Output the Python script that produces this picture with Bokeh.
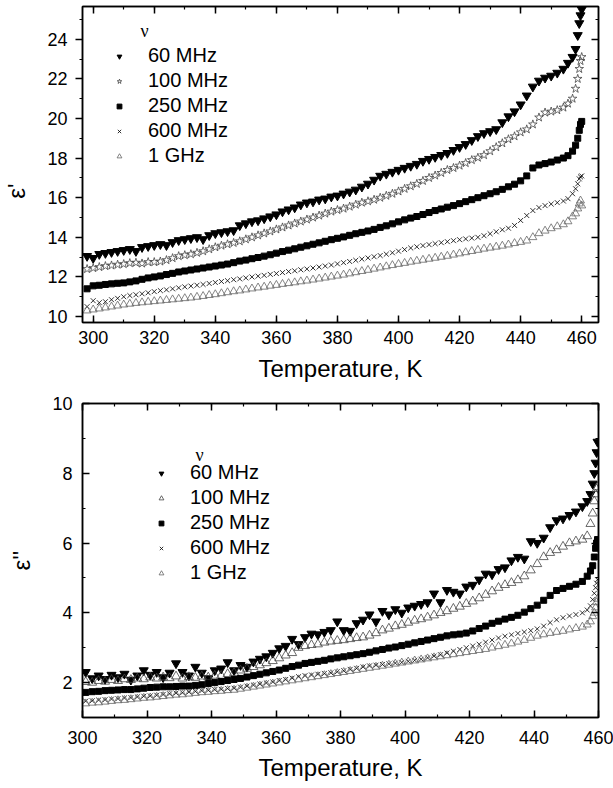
from bokeh.plotting import figure
from bokeh.models import (ColumnDataSource, LinearAxis, Range1d, SingleIntervalTicker,
                          Legend, LegendItem, Label, CustomJSTickFormatter)
from bokeh.layouts import column
from bokeh.embed import file_html
from bokeh.resources import INLINE

FONT = "Liberation Sans"

# ---------------- data: upper panel (eps') ----------------
T_top = [298, 300, 302, 304, 306, 308, 310, 312, 314, 316,
         318, 320, 322, 324, 326, 328, 330, 332, 334, 336,
         338, 340, 342, 344, 346, 348, 350, 352, 354, 356,
         358, 360, 362, 364, 366, 368, 370, 372, 374, 376,
         378, 380, 382, 384, 386, 388, 390, 392, 394, 396,
         398, 400, 402, 404, 406, 408, 410, 412, 414, 416,
         418, 420, 422, 424, 426, 428, 430, 432, 434, 436,
         438, 440, 442, 444, 446, 448, 450, 452, 454,
         455.5, 457, 458, 458.7, 459.2, 459.6, 460]

eps1_60MHz = [13.05, 12.95, 13.15, 13.2, 13.25, 13.3, 13.35, 13.4, 13.3, 13.5,
              13.55, 13.6, 13.65, 13.6, 13.75, 13.85, 13.9, 13.95, 14.0, 13.9,
              14.1, 14.2, 14.25, 14.3, 14.35, 14.6, 14.7, 14.8, 14.85, 14.95,
              15.05, 15.15, 15.3, 15.4, 15.5, 15.65, 15.75, 15.8, 15.9, 15.95,
              16.05, 16.1, 16.2, 16.3, 16.4, 16.55, 16.7, 16.9, 17.1, 17.2,
              17.3, 17.4, 17.5, 17.6, 17.7, 17.85, 17.95, 18.05, 18.15, 18.25,
              18.4, 18.55, 18.7, 18.9, 19.1, 19.25, 19.35, 19.45, 19.8, 20.1,
              20.35, 20.7, 21.15, 21.6, 21.9, 22.05, 22.15, 22.3, 22.5,
              22.8, 23.1, 23.5, 24.2, 24.8, 25.2, 25.5]

eps1_100MHz = [12.4, 12.45, 12.5, 12.55, 12.58, 12.62, 12.65, 12.7, 12.72, 12.68,
               12.75, 12.75, 12.78, 12.85, 12.95, 13.05, 13.1, 13.15, 13.22, 13.3,
               13.4, 13.5, 13.58, 13.65, 13.72, 13.8, 13.9, 14.0, 14.1, 14.2,
               14.3, 14.4, 14.5, 14.6, 14.7, 14.8, 14.9, 15.0, 15.1, 15.2,
               15.3, 15.38, 15.45, 15.55, 15.65, 15.75, 15.82, 15.9, 16.0, 16.1,
               16.2, 16.32, 16.45, 16.58, 16.7, 16.85, 17.0, 17.12, 17.25, 17.4,
               17.5, 17.62, 17.75, 17.9, 18.02, 18.15, 18.35, 18.55, 18.75, 18.95,
               19.1, 19.3, 19.45, 19.7, 20.05, 20.3, 20.35, 20.42, 20.55,
               20.75, 21.0, 21.5, 22.0, 22.5, 22.9, 23.1]

eps1_250MHz = [11.4, 11.55, 11.58, 11.62, 11.65, 11.68, 11.7, 11.75, 11.8, 11.88,
               11.95, 12.0, 12.05, 12.12, 12.18, 12.25, 12.3, 12.35, 12.4, 12.45,
               12.5, 12.55, 12.6, 12.65, 12.72, 12.8, 12.85, 12.92, 12.98, 13.05,
               13.12, 13.2, 13.28, 13.35, 13.42, 13.5, 13.57, 13.65, 13.72, 13.8,
               13.88, 13.95, 14.02, 14.1, 14.18, 14.25, 14.32, 14.4, 14.5, 14.58,
               14.68, 14.78, 14.88, 14.97, 15.05, 15.15, 15.25, 15.35, 15.43, 15.52,
               15.6, 15.7, 15.8, 15.9, 16.0, 16.1, 16.2, 16.3, 16.42, 16.55,
               16.68, 16.85, 17.1, 17.5, 17.65, 17.72, 17.8, 17.9, 18.0,
               18.12, 18.35, 18.65, 19.0, 19.4, 19.7, 19.85]

eps1_600MHz = [10.5, 10.8, 10.7, 10.75, 10.85, 10.92, 11.0, 11.06, 11.1, 11.15,
               11.2, 11.26, 11.31, 11.35, 11.4, 11.45, 11.5, 11.54, 11.58, 11.62,
               11.67, 11.72, 11.77, 11.81, 11.86, 11.9, 11.95, 12.0, 12.04, 12.08,
               12.13, 12.17, 12.22, 12.27, 12.31, 12.36, 12.4, 12.45, 12.5, 12.55,
               12.6, 12.66, 12.72, 12.78, 12.84, 12.9, 12.96, 13.02, 13.08, 13.15,
               13.22, 13.3, 13.38, 13.46, 13.52, 13.58, 13.63, 13.68, 13.73, 13.78,
               13.83, 13.88, 13.92, 13.96, 14.0, 14.08, 14.18, 14.28, 14.38, 14.46,
               14.6, 14.85, 15.1, 15.35, 15.5, 15.6, 15.68, 15.75, 15.83,
               15.95, 16.2, 16.45, 16.7, 16.95, 17.05, 17.1]

eps1_1GHz = [10.3, 10.35, 10.4, 10.45, 10.5, 10.55, 10.6, 10.64, 10.68, 10.71,
             10.74, 10.77, 10.8, 10.83, 10.86, 10.89, 10.92, 10.95, 10.99, 11.03,
             11.08, 11.12, 11.17, 11.22, 11.27, 11.31, 11.36, 11.41, 11.46, 11.5,
             11.55, 11.59, 11.64, 11.68, 11.72, 11.77, 11.81, 11.86, 11.91, 11.96,
             12.01, 12.06, 12.11, 12.17, 12.23, 12.29, 12.35, 12.41, 12.47, 12.53,
             12.59, 12.65, 12.7, 12.76, 12.81, 12.86, 12.91, 12.96, 13.01, 13.06,
             13.12, 13.18, 13.24, 13.3, 13.36, 13.42, 13.47, 13.52, 13.57, 13.63,
             13.7, 13.76, 13.83, 14.0, 14.2, 14.33, 14.45, 14.55, 14.65,
             14.8, 15.05, 15.2, 15.45, 15.7, 15.85, 15.6]

# ---------------- data: lower panel (eps'') ----------------
T_bot = [301, 303, 305, 307, 309, 311, 313, 315, 317, 319,
         321, 323, 325, 327, 329, 331, 333, 335, 337, 339,
         341, 343, 345, 347, 349, 351, 353, 355, 357, 359,
         361, 363, 365, 367, 369, 371, 373, 375, 377, 379,
         381, 383, 385, 387, 389, 391, 393, 395, 397, 399,
         401, 403, 405, 407, 409, 411, 413, 415, 417, 419,
         421, 423, 425, 427, 429, 431, 433, 435, 437, 439,
         441, 443, 445, 447, 449, 451, 453, 455,
         456.5, 457.5, 458.2, 458.7, 459.1, 459.4, 459.7]

eps2_60MHz = [2.3, 2.12, 2.2, 2.1, 2.22, 2.15, 2.25, 2.08, 2.2, 2.35,
              2.22, 2.3, 2.15, 2.28, 2.55, 2.3, 2.2, 2.45, 2.28, 2.12,
              2.35, 2.4, 2.58, 2.35, 2.5, 2.45, 2.6, 2.68, 2.75, 2.85,
              2.98, 3.05, 3.25, 3.1, 3.3, 3.4, 3.38, 3.45, 3.5, 3.75,
              3.5, 3.48, 3.7, 3.8, 3.95, 3.75, 4.05, 3.95, 4.1, 4.0,
              4.15, 4.2, 4.25, 4.3, 4.55, 4.3, 4.65, 4.6, 4.55, 4.75,
              4.8, 4.95, 5.12, 5.1, 5.25, 5.3, 5.5, 5.6, 5.55, 6.05,
              6.0, 6.15, 6.45, 6.65, 6.7, 6.8, 6.9, 7.05,
              7.2, 7.4, 7.7, 8.0, 8.3, 8.6, 8.9]

eps2_100MHz = [2.02, 2.0, 2.05, 2.03, 2.08, 2.05, 2.1, 2.08, 2.12, 2.1,
               2.15, 2.12, 2.15, 2.13, 2.18, 2.12, 2.16, 2.14, 2.18, 2.15,
               2.2, 2.2, 2.25, 2.28, 2.35, 2.4, 2.45, 2.5, 2.56, 2.62,
               2.7, 2.78, 2.85, 3.0, 3.05, 3.08, 3.1, 3.15, 3.18, 3.2,
               3.22, 3.25, 3.28, 3.3, 3.35, 3.42, 3.5, 3.55, 3.62, 3.66,
               3.72, 3.78, 3.82, 3.87, 3.93, 4.0, 4.05, 4.12, 4.18, 4.26,
               4.33, 4.42, 4.52, 4.62, 4.72, 4.8, 4.86, 4.94, 5.05, 5.22,
               5.4, 5.6, 5.72, 5.8, 5.9, 6.0, 6.05, 6.1,
               6.2, 6.55, 6.85, 7.2, 7.4, 7.55, 7.6]

eps2_250MHz = [1.72, 1.74, 1.75, 1.77, 1.78, 1.79, 1.8, 1.8, 1.82, 1.84,
               1.86, 1.87, 1.88, 1.88, 1.89, 1.9, 1.9, 1.92, 1.94, 1.97,
               2.0, 2.03, 2.06, 2.09, 2.12, 2.16, 2.2, 2.24, 2.28, 2.32,
               2.36, 2.41, 2.46, 2.5, 2.55, 2.58, 2.61, 2.64, 2.68, 2.71,
               2.74, 2.77, 2.8, 2.83, 2.87, 2.91, 2.95, 2.99, 3.02, 3.06,
               3.1, 3.14, 3.18, 3.22, 3.26, 3.3, 3.34, 3.37, 3.39, 3.42,
               3.48, 3.55, 3.62, 3.7, 3.76, 3.82, 3.87, 3.93, 4.02, 4.12,
               4.22, 4.36, 4.5, 4.64, 4.7, 4.76, 4.82, 4.9,
               5.05, 5.2, 5.35, 5.6, 5.85, 6.0, 6.1]

eps2_600MHz = [1.47, 1.48, 1.5, 1.51, 1.53, 1.54, 1.56, 1.57, 1.59, 1.61,
               1.62, 1.64, 1.66, 1.68, 1.7, 1.71, 1.73, 1.75, 1.77, 1.78,
               1.8, 1.81, 1.83, 1.84, 1.87, 1.9, 1.93, 1.96, 1.99, 2.02,
               2.06, 2.09, 2.13, 2.17, 2.2, 2.22, 2.24, 2.26, 2.28, 2.31,
               2.34, 2.38, 2.41, 2.45, 2.48, 2.5, 2.52, 2.54, 2.56, 2.58,
               2.61, 2.64, 2.67, 2.71, 2.76, 2.8, 2.85, 2.9, 2.95, 3.0,
               3.05, 3.1, 3.16, 3.22, 3.28, 3.33, 3.37, 3.41, 3.45, 3.49,
               3.54, 3.62, 3.72, 3.8, 3.86, 3.91, 3.95, 4.0,
               4.08, 4.2, 4.38, 4.56, 4.72, 4.85, 4.95]

eps2_1GHz = [1.4, 1.42, 1.43, 1.45, 1.47, 1.49, 1.5, 1.52, 1.54, 1.56,
             1.57, 1.59, 1.61, 1.63, 1.65, 1.66, 1.68, 1.7, 1.72, 1.73,
             1.75, 1.76, 1.78, 1.79, 1.82, 1.85, 1.88, 1.91, 1.94, 1.97,
             2.0, 2.03, 2.06, 2.09, 2.12, 2.15, 2.18, 2.21, 2.24, 2.27,
             2.3, 2.33, 2.36, 2.39, 2.42, 2.45, 2.48, 2.51, 2.54, 2.57,
             2.6, 2.63, 2.66, 2.69, 2.72, 2.75, 2.78, 2.81, 2.84, 2.87,
             2.9, 2.93, 2.96, 3.0, 3.04, 3.08, 3.12, 3.17, 3.22, 3.28,
             3.34, 3.38, 3.42, 3.45, 3.48, 3.52, 3.56, 3.6,
             3.66, 3.75, 3.9, 4.0, 4.15, 4.3, 4.4]

labels = ["60 MHz", "100 MHz", "250 MHz", "600 MHz", "1 GHz"]

NBSP = "\u00a0"


def style_axis(ax, tick_in, tick_out, label_size="18px", standoff=8):
    ax.axis_line_color = "black"
    ax.axis_line_width = 1.5
    ax.major_tick_line_color = "black"
    ax.major_tick_line_width = 1.5
    ax.minor_tick_line_color = "black"
    ax.minor_tick_line_width = 1.2
    ax.major_tick_in = tick_in
    ax.major_tick_out = tick_out
    ax.minor_tick_in = int(tick_in * 0.55)
    ax.minor_tick_out = int(tick_out * 0.55)
    ax.major_label_text_font = FONT
    ax.major_label_text_font_size = label_size
    ax.major_label_text_color = "black"
    ax.major_label_standoff = standoff
    ax.axis_label_text_font = FONT
    ax.axis_label_text_font_style = "normal"
    ax.axis_label_text_font_size = "24px"
    ax.axis_label_text_color = "black"


def make_panel(x_range, y_range, borders, ylabel, left_out, xstand):
    p = figure(width=613, height=394, output_backend="svg", toolbar_location=None,
               x_range=Range1d(*x_range), y_range=Range1d(*y_range),
               min_border_left=borders[0], min_border_right=borders[1],
               min_border_top=borders[2], min_border_bottom=borders[3])
    p.grid.visible = False
    p.outline_line_color = "black"
    p.outline_line_width = 1.5
    p.background_fill_color = "white"
    p.border_fill_color = "white"

    p.xaxis.ticker = SingleIntervalTicker(interval=20, num_minor_ticks=2)
    p.yaxis.ticker = SingleIntervalTicker(interval=2, num_minor_ticks=2)
    p.xaxis.axis_label = "Temperature, K"
    p.yaxis.axis_label = ylabel
    style_axis(p.xaxis[0], 7, 0, standoff=xstand[0])
    p.xaxis[0].axis_label_standoff = xstand[1]
    if left_out:
        style_axis(p.yaxis[0], 0, 7, standoff=8)
    else:
        style_axis(p.yaxis[0], 7, 0, standoff=10)
    p.yaxis[0].axis_label_standoff = 14

    blank = CustomJSTickFormatter(code="return ''")
    top = LinearAxis(ticker=SingleIntervalTicker(interval=20, num_minor_ticks=2),
                     formatter=blank)
    right = LinearAxis(ticker=SingleIntervalTicker(interval=2, num_minor_ticks=2),
                       formatter=blank)
    for ax in (top, right):
        style_axis(ax, 7, 0, label_size="1px", standoff=0)
    p.add_layout(top, "above")
    p.add_layout(right, "right")
    return p


def add_series(p, T, series, hundred_marker):
    rs = []
    src = ColumnDataSource(dict(T=T, a=series[0], b=series[1], c=series[2],
                                d=series[3], e=series[4]))
    rs.append(p.scatter("T", "a", source=src, marker="inverted_triangle", size=9,
                        fill_color="black", line_color="black"))
    rs.append(p.scatter("T", "b", source=src, marker=hundred_marker, size=9,
                        fill_color="white", fill_alpha=0.0, line_color="#444444",
                        line_width=0.8))
    rs.append(p.scatter("T", "c", source=src, marker="square", size=6,
                        fill_color="black", line_color="black"))
    rs.append(p.scatter("T", "d", source=src, marker="x", size=7,
                        line_color="black", line_width=0.8))
    rs.append(p.scatter("T", "e", source=src, marker="triangle", size=8,
                        fill_color="white", fill_alpha=0.0, line_color="#666666",
                        line_width=0.8))
    return rs


def add_legend(p, rs, loc, nu_xy):
    leg = Legend(items=[LegendItem(label=l, renderers=[r]) for l, r in zip(labels, rs)],
                 location=loc, orientation="vertical",
                 background_fill_alpha=0.0, border_line_alpha=0.0,
                 label_text_font=FONT, label_text_font_size="20px",
                 label_text_color="black",
                 glyph_width=12, glyph_height=12, label_height=20,
                 spacing=2, padding=0, margin=0, label_standoff=23)
    p.add_layout(leg, "center")
    p.add_layout(Label(x=nu_xy[0], y=nu_xy[1], x_units="screen", y_units="screen",
                       text="\u03bd", text_font="Liberation Serif", text_font_size="18px",
                       text_align="center", text_baseline="middle", text_color="black"))


# upper panel
p1 = make_panel((296.5, 465.5), (9.7, 25.65), (80, 12, 6, 72),
                "\u03b5'" + NBSP * 8, True, (8, 8))
rs1 = add_series(p1, T_top, [eps1_60MHz, eps1_100MHz, eps1_250MHz, eps1_600MHz, eps1_1GHz],
                 "star")
add_legend(p1, rs1, (31, 155), (62, 292))

# lower panel
p2 = make_panel((300, 460), (1, 10), (76, 15, 9, 71), "\u03b5''", False, (13, 7))
rs2 = add_series(p2, T_bot, [eps2_60MHz, eps2_100MHz, eps2_250MHz, eps2_600MHz, eps2_1GHz],
                 "triangle")
add_legend(p2, rs2, (73, 133), (117, 263))

layout = column(p1, p2)
open("out.html", "w").write(file_html(layout, INLINE))
